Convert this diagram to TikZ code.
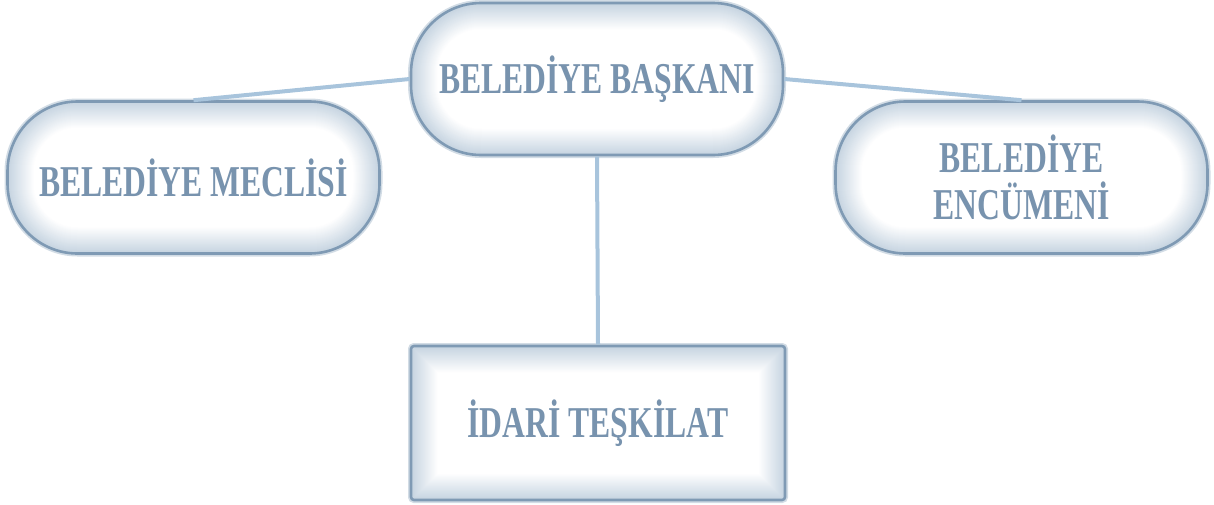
\documentclass[tikz,border=0pt]{standalone}
\usepackage{fontspec}
\newfontfamily\lblfont[FakeStretch=0.72]{Liberation Serif}
\definecolor{edgec}{HTML}{7F9AB4}
\definecolor{glowc}{HTML}{C6D4E1}
\definecolor{connc}{HTML}{A8C4DC}
\definecolor{txtc}{HTML}{7893AE}
\tikzset{
  glowing/.style={
    path picture={
      \foreach \i in {1,...,26}{
        \pgfmathsetmacro{\lw}{2*(27-\i)}
        \pgfmathsetmacro{\mx}{\i*3.85}
        \draw[rounded corners=#1, line width=\lw pt, draw=glowc!\mx!white]
          (path picture bounding box.south west) rectangle (path picture bounding box.north east);
      }
    }
  },
  boxbase/.style={draw=edgec, line width=2.6pt, fill=white, inner sep=0pt,
    align=center, text=txtc, font=\lblfont\bfseries\fontsize{44}{47}\selectfont,
    preaction={draw=edgec!35!white, line width=6pt}},
  pill/.style={boxbase, rounded corners=70pt, glowing=70pt,
    minimum width=372pt, minimum height=152pt},
  rectbox/.style={boxbase, rounded corners=3pt, glowing=3pt,
    minimum width=374pt, minimum height=154pt},
  conn/.style={draw=connc, line width=4pt}
}
\begin{document}
\begin{tikzpicture}[x=1pt,y=-1pt]
\useasboundingbox (0,0) rectangle (1214,504);
\node[pill] (top) at (597,79) {BELEDİYE BAŞKANI};
\node[pill] (left) at (193.5,177.5) {BELEDİYE MECLİSİ};
\node[pill] (right) at (1021.5,177.5) {BELEDİYE\\ENCÜMENİ};
\node[rectbox] (bot) at (598,423) {İDARİ TEŞKİLAT};
\draw[conn] (top.west) -- (left.north);
\draw[conn] (top.east) -- (right.north);
\draw[conn] (top.south) -- (bot.north);
\end{tikzpicture}
\end{document}
